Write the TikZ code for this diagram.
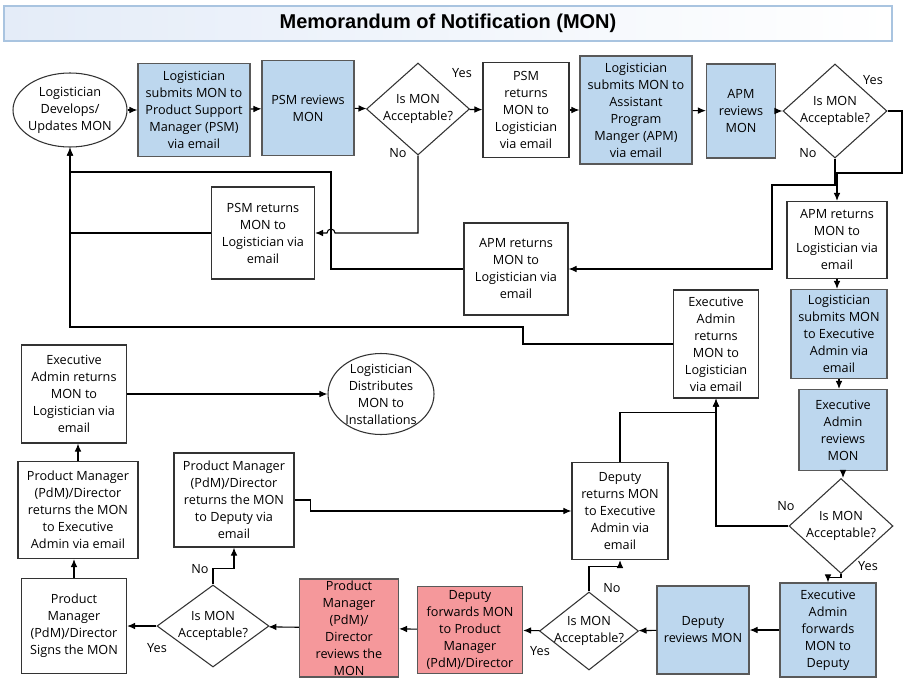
\documentclass[tikz,border=0pt]{standalone}
\usepackage{fontspec}
\setmainfont{Open Sans}
\newfontfamily\titlefont{Liberation Sans}
\usetikzlibrary{shapes.geometric,arrows.meta}
\definecolor{procblue}{RGB}{189,215,238}
\definecolor{procred}{RGB}{245,152,155}
\definecolor{titleline}{RGB}{169,196,224}
\definecolor{titlefill}{RGB}{228,236,248}
\newcommand{\bodyfont}{\fontsize{9.5}{12.75}\selectfont}

\begin{document}
\begin{tikzpicture}[
      x=0.75pt, y=-0.75pt,
      every node/.style={font=\bodyfont, align=center, inner sep=0pt},
      every label/.style={font=\bodyfont, align=center, inner sep=0pt},
      sz/.style 2 args={minimum width=#1*0.75pt, minimum height=#2*0.75pt},
      box/.style={rectangle, draw=black!80, line width=0.9pt, fill=white},
      bluebox/.style={box, fill=procblue, draw=black!65},
      redbox/.style={box, fill=procred, draw=black!65},
      decision/.style={diamond, draw=black!80, line width=0.8pt, fill=white},
      terminal/.style={ellipse, draw=black!80, line width=0.8pt, fill=white},
      line/.style={line width=0.8pt, draw=black},
      pointer/.style={line, -{Latex[length=6pt,width=5pt]}}
      ]
      \useasboundingbox (0,0) rectangle (909,690);
      \fill[white] (0,0) rectangle (909,690);
      \node[draw=titleline, line width=1.5pt, left color=titlefill, right color=white, sz={888}{35},
        font=\titlefont\bfseries\fontsize{15}{18}\selectfont] (title) at (448,23.5) {Memorandum of Notification (MON)};

      % PSM review
      \node[terminal, sz={114}{74}, label={center:Logistician\\Develops/\\Updates MON}] (dev) at (70,110) {};
      \node[bluebox, sz={112}{93}] (sub1) at (194,110) {Logistician\\submits MON to\\Product Support\\Manager (PSM)\\via email};
      \node[bluebox, sz={92}{95}] (psmrev) at (308,108) {PSM reviews\\MON};
      \node[decision, sz={103}{92}, label={center:Is MON\\Acceptable?}] (d1) at (418,109) {};
      \node[box, sz={86}{95}] (psmok) at (526,110) {PSM\\returns\\MON to\\Logistician\\via email};
      \node[box, sz={103}{92}] (psmret) at (263,233) {PSM returns\\MON to\\Logistician via\\email};

      % APM review
      \node[bluebox, sz={112}{108}] (sub2) at (636,110) {Logistician\\submits MON to\\Assistant\\Program\\Manger (APM)\\via email};
      \node[bluebox, sz={69}{94}] (apmrev) at (741,111) {APM\\reviews\\MON};
      \node[decision, sz={104}{94}, label={center:Is MON\\Acceptable?}] (d2) at (835,111) {};
      \node[box, sz={104}{92}] (apmret) at (516,269) {APM returns\\MON to\\Logistician via\\email};
      \node[box, sz={100}{77}] (apmok) at (837,240) {APM returns\\MON to\\Logistician via\\email};

      % Executive Admin review
      \node[bluebox, sz={96}{89}] (sub3) at (839,334) {Logistician\\submits MON\\to Executive\\Admin via\\email};
      \node[bluebox, sz={88}{81}] (earev) at (843,430) {Executive\\Admin\\reviews\\MON};
      \node[decision, sz={104}{95}, label={center:Is MON\\Acceptable?}] (d3) at (841,526) {};
      \node[box, sz={85}{108}] (earet) at (716,344) {Executive\\Admin\\returns\\MON to\\Logistician\\via email};
      \node[bluebox, sz={96}{94}] (eafwd) at (828,630) {Executive\\Admin\\forwards\\MON to\\Deputy};

      % Deputy review
      \node[bluebox, sz={92}{88}] (deprev) at (703,630) {Deputy\\reviews MON};
      \node[decision, sz={99}{78}, label={center:Is MON\\Acceptable?}] (d4) at (589,631) {};
      \node[box, sz={96}{97}] (depret) at (620,511) {Deputy\\returns MON\\to Executive\\Admin via\\email};
      \node[redbox, sz={105}{87}] (depfwd) at (470,630) {Deputy\\forwards MON\\to Product\\Manager\\(PdM)/Director};

      % PdM review
      \node[redbox, sz={99}{98}] (pdmrev) at (349,628) {Product\\Manager\\(PdM)/\\Director\\reviews the\\MON};
      \node[decision, sz={112}{82}, label={center:Is MON\\Acceptable?}] (d5) at (213,626) {};
      \node[box, sz={105}{95}] (pdmsign) at (74,626) {Product\\Manager\\(PdM)/Director\\Signs the MON};
      \node[box, sz={120}{94}] (pdmret2) at (234,500) {Product Manager\\(PdM)/Director\\returns the MON\\to Deputy via\\email};
      \node[box, sz={120}{97}] (pdmret1) at (78,510) {Product Manager\\(PdM)/Director\\returns the MON\\to Executive\\Admin via email};
      \node[box, sz={105}{98}] (earet2) at (74,394) {Executive\\Admin returns\\MON to\\Logistician via\\email};
      \node[terminal, sz={106}{81}, label={center:Logistician\\Distributes\\MON to\\Installations}] (distrib) at (381,394) {};

      % answers
      \node (yes1) at (462,73) {Yes};
      \node (no1) at (398,153) {No};
      \node (yes2) at (873,80) {Yes};
      \node (no2) at (808,153) {No};
      \node (no3) at (786,506) {No};
      \node (yes3) at (868,566) {Yes};
      \node (no4) at (612,588) {No};
      \node (yes4) at (540,651) {Yes};
      \node (no5) at (200,569) {No};
      \node (yes5) at (157,648) {Yes};

      % top row
      \draw[pointer] (dev) -- (sub1);
      \draw[pointer] (sub1) -- (psmrev);
      \draw[pointer] (psmrev) -- (d1);
      \draw[pointer] (d1) -- (psmok);
      \draw[pointer] (psmok) -- (sub2);
      \draw[pointer] (sub2) -- (apmrev);
      \draw[pointer] (apmrev) -- (d2);
      \draw[pointer] (d1.south) |- (335,233) arc[start angle=0, end angle=180, radius=3pt] -- (psmret.east);
      \draw[line] (psmret.west) -- (psmret.west -| dev.south);
      \draw[pointer] (d2.east) -| (902,173) -| (apmok.north);
      \draw[pointer] (d2.south) |- (772,185) |- (apmret.east);
      \draw[pointer] (apmret.west) -| (331,172) -| (dev.south);

      % right column
      \draw[pointer] (apmok.south) -- (apmok.south |- sub3.north);
      \draw[pointer] (sub3.south) -- (sub3.south |- earev.north);
      \draw[pointer] (earev.south) -- (earev.south |- d3.north);
      \draw[pointer] (d3.west) -| (earet.south);
      \draw[pointer] (earet.west) -| (523,327) -| (dev.south);
      \draw[pointer] (d3.south) -- ++(0,3) -| (eafwd.north);

      % bottom row
      \draw[pointer] (eafwd) -- (deprev);
      \draw[pointer] (deprev) -- (d4);
      \draw[pointer] (d4) -- (depfwd);
      \draw[pointer] (d4.north) -- ++(0,-25) -| (depret.south);
      \draw[pointer] (depret.north) -- ++(0,-49) -| (earet.south);
      \draw[pointer] (depfwd) -- (pdmrev);
      \draw[pointer] (pdmrev) -- (d5);
      \draw[pointer] (d5) -- (pdmsign);
      \draw[pointer] (d5.north) -- ++(0,-16) -| (pdmret2.south);
      \draw[pointer] (pdmret2.east) -- ++(16,0) |- (depret.west);

      % left column
      \draw[pointer] (pdmsign.north) -- (pdmsign.north |- pdmret1.south);
      \draw[pointer] (pdmret1.north) -- (pdmret1.north |- earet2.south);
      \draw[pointer] (earet2) -- (distrib);
    \end{tikzpicture}
\end{document}
